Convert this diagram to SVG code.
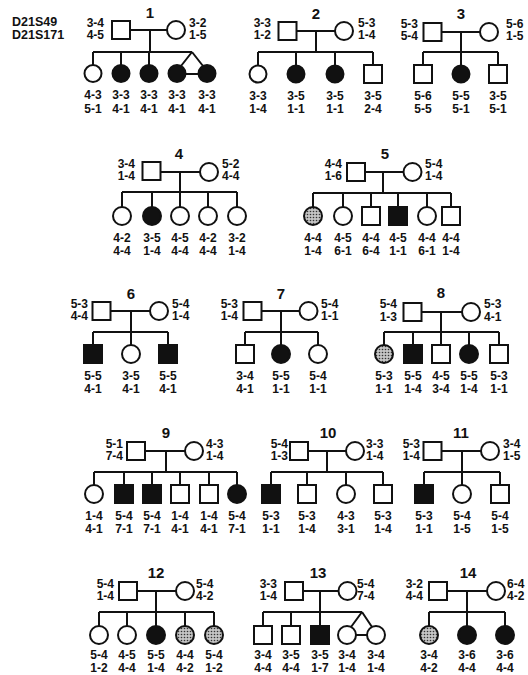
<svg xmlns="http://www.w3.org/2000/svg" width="528" height="675" viewBox="0 0 528 675">
<defs>
<pattern id="dots" width="3" height="3" patternUnits="userSpaceOnUse"><rect width="3" height="3" fill="#c4c4c4"/><circle cx="1.5" cy="1.5" r="0.8" fill="#333"/></pattern>
</defs>
<style>
text{font-family:"Liberation Sans",Arial,sans-serif;font-weight:bold;font-size:12px;fill:#111}
.c{text-anchor:middle}
.e{text-anchor:end}
.ti{font-size:15px;text-anchor:middle}
.hd{font-size:12.5px}
.o{fill:#fff;stroke:#111;stroke-width:2}
.a{fill:#111;stroke:#111;stroke-width:2}
.s{fill:url(#dots);stroke:#111;stroke-width:2}
.ln{stroke:#111;stroke-width:2;fill:none}
</style>
<rect width="528" height="675" fill="#fff"/>
<g id="header"><text class="hd" x="12" y="25.5">D21S49</text><text class="hd" x="12" y="38.5">D21S171</text></g>

<g id="connectors" class="ln">
<path d="M130 30H167M150 30V52M93 52H192M93 52V65M121 52V65M149 52V65M192 52L181 66M192 52L203 66M185 74H198"/>
<path d="M297 31H335M316 31V52M258 52H373M258 52V65M296 52V65M335 52V65M373 52V65"/>
<path d="M442 32H480M461 32V52M423 52H498M423 52V65M461 52V65M498 52V65"/>
<path d="M161 172H200M180 172V192M122 192H237M122 192V207M152 192V207M180 192V207M208 192V207M237 192V207"/>
<path d="M365 172H403M383 172V193M313 193H451M313 193V207M343 193V207M371 193V207M398 193V207M427 193V207M451 193V207"/>
<path d="M111 311H150M131 311V332M93 332H168M93 332V345M131 332V345M168 332V345"/>
<path d="M262 311H299M281 311V332M245 332H318M245 332V345M281 332V345M318 332V345"/>
<path d="M422 312H462M441 312V332M384 332H499M384 332V345M413 332V345M441 332V345M469 332V345M499 332V345"/>
<path d="M145 451H185M166 451V472M94 472H237M94 472V485M124 472V485M152 472V485M180 472V485M209 472V485M237 472V485"/>
<path d="M308 451H346M327 451V472M271 472H383M271 472V485M307 472V485M346 472V485M383 472V485"/>
<path d="M442 451H481M462 451V472M424 472H500M424 472V485M462 472V485M500 472V485"/>
<path d="M137 591H176M156 591V612M99 612H214M99 612V626M127 612V626M156 612V626M185 612V626M214 612V626"/>
<path d="M303 591H338M320 591V612M263 612H362M263 612V626M291 612V626M320 612V626M362 612L351 627M362 612L372 627M356 635H367"/>
<path d="M447 591H487M467 591V612M429 612H505M429 612V626M467 612V626M505 612V626"/>
</g>

<g id="fam1">
<text class="ti" x="150" y="18">1</text>
<g id="f1-father"><rect class="o" x="112" y="21" width="18" height="18"/><text class="e" x="104" y="26.5">3-4<tspan x="104" dy="12.5">4-5</tspan></text></g>
<g id="f1-mother"><circle class="o" cx="176" cy="30" r="9"/><text x="189" y="26.5">3-2<tspan x="189" dy="12.5">1-5</tspan></text></g>
<g id="f1-c1"><circle class="o" cx="93" cy="73.5" r="8.5"/><text class="c" x="93" y="99">4-3<tspan x="93" dy="13.5">5-1</tspan></text></g>
<g id="f1-c2"><circle class="a" cx="121" cy="73.5" r="8.5"/><text class="c" x="121" y="99">3-3<tspan x="121" dy="13.5">4-1</tspan></text></g>
<g id="f1-c3"><circle class="a" cx="149" cy="73.5" r="8.5"/><text class="c" x="149" y="99">3-3<tspan x="149" dy="13.5">4-1</tspan></text></g>
<g id="f1-c4"><circle class="a" cx="177" cy="73.5" r="8.5"/><text class="c" x="177" y="99">3-3<tspan x="177" dy="13.5">4-1</tspan></text></g>
<g id="f1-c5"><circle class="a" cx="207" cy="73.5" r="8.5"/><text class="c" x="207" y="99">3-3<tspan x="207" dy="13.5">4-1</tspan></text></g>
</g>

<g id="fam2">
<text class="ti" x="316" y="19">2</text>
<g id="f2-father"><rect class="o" x="278.5" y="22" width="18" height="18"/><text class="e" x="271" y="26.5">3-3<tspan x="271" dy="12.5">1-2</tspan></text></g>
<g id="f2-mother"><circle class="o" cx="344" cy="31" r="9"/><text x="358" y="26.5">5-3<tspan x="358" dy="12.5">1-4</tspan></text></g>
<g id="f2-c1"><circle class="o" cx="258" cy="74" r="8.5"/><text class="c" x="258" y="99.5">3-3<tspan x="258" dy="13.5">1-4</tspan></text></g>
<g id="f2-c2"><circle class="a" cx="296" cy="74" r="8.5"/><text class="c" x="296" y="99.5">3-5<tspan x="296" dy="13.5">1-1</tspan></text></g>
<g id="f2-c3"><circle class="a" cx="335" cy="74" r="8.5"/><text class="c" x="335" y="99.5">3-5<tspan x="335" dy="13.5">1-1</tspan></text></g>
<g id="f2-c4"><rect class="o" x="364" y="65" width="18" height="18"/><text class="c" x="373" y="99.5">3-5<tspan x="373" dy="13.5">2-4</tspan></text></g>
</g>

<g id="fam3">
<text class="ti" x="461" y="19">3</text>
<g id="f3-father"><rect class="o" x="423.5" y="23" width="18" height="18"/><text class="e" x="418" y="27.5">5-3<tspan x="418" dy="12.5">5-4</tspan></text></g>
<g id="f3-mother"><circle class="o" cx="489" cy="32" r="9"/><text x="506" y="27.5">5-6<tspan x="506" dy="12.5">1-5</tspan></text></g>
<g id="f3-c1"><rect class="o" x="414" y="65" width="18" height="18"/><text class="c" x="423" y="99.5">5-6<tspan x="423" dy="13.5">5-5</tspan></text></g>
<g id="f3-c2"><circle class="a" cx="461" cy="74" r="8.5"/><text class="c" x="461" y="99.5">5-5<tspan x="461" dy="13.5">5-1</tspan></text></g>
<g id="f3-c3"><rect class="o" x="489" y="65" width="18" height="18"/><text class="c" x="498" y="99.5">3-5<tspan x="498" dy="13.5">5-1</tspan></text></g>
</g>

<g id="fam4">
<text class="ti" x="179" y="159">4</text>
<g id="f4-father"><rect class="o" x="142.5" y="162" width="18" height="18"/><text class="e" x="135" y="167.5">3-4<tspan x="135" dy="12.5">1-4</tspan></text></g>
<g id="f4-mother"><circle class="o" cx="209" cy="172" r="9"/><text x="222" y="167.5">5-2<tspan x="222" dy="12.5">4-4</tspan></text></g>
<g id="f4-c1"><circle class="o" cx="122" cy="216" r="9"/><text class="c" x="122" y="241.5">4-2<tspan x="122" dy="13.5">4-4</tspan></text></g>
<g id="f4-c2"><circle class="a" cx="152" cy="216" r="9"/><text class="c" x="152" y="241.5">3-5<tspan x="152" dy="13.5">1-4</tspan></text></g>
<g id="f4-c3"><circle class="o" cx="180" cy="216" r="9"/><text class="c" x="180" y="241.5">4-5<tspan x="180" dy="13.5">4-4</tspan></text></g>
<g id="f4-c4"><circle class="o" cx="208" cy="216" r="9"/><text class="c" x="208" y="241.5">4-2<tspan x="208" dy="13.5">4-4</tspan></text></g>
<g id="f4-c5"><circle class="o" cx="237" cy="216" r="9"/><text class="c" x="237" y="241.5">3-2<tspan x="237" dy="13.5">1-4</tspan></text></g>
</g>

<g id="fam5">
<text class="ti" x="385" y="159">5</text>
<g id="f5-father"><rect class="o" x="347" y="163" width="18" height="18"/><text class="e" x="342" y="167.5">4-4<tspan x="342" dy="12.5">1-6</tspan></text></g>
<g id="f5-mother"><circle class="o" cx="412.5" cy="172" r="9"/><text x="425" y="167.5">5-4<tspan x="425" dy="12.5">1-4</tspan></text></g>
<g id="f5-c1"><circle class="s" cx="313" cy="216" r="9"/><text class="c" x="313" y="241.5">4-4<tspan x="313" dy="13.5">1-4</tspan></text></g>
<g id="f5-c2"><circle class="o" cx="343" cy="216" r="9"/><text class="c" x="343" y="241.5">4-5<tspan x="343" dy="13.5">6-1</tspan></text></g>
<g id="f5-c3"><rect class="o" x="362" y="207" width="18" height="18"/><text class="c" x="371" y="241.5">4-4<tspan x="371" dy="13.5">6-4</tspan></text></g>
<g id="f5-c4"><rect class="a" x="389" y="207" width="18" height="18"/><text class="c" x="398" y="241.5">4-5<tspan x="398" dy="13.5">1-1</tspan></text></g>
<g id="f5-c5"><circle class="o" cx="427" cy="216" r="9"/><text class="c" x="427" y="241.5">4-4<tspan x="427" dy="13.5">6-1</tspan></text></g>
<g id="f5-c6"><rect class="o" x="442" y="207" width="18" height="18"/><text class="c" x="451" y="241.5">4-4<tspan x="451" dy="13.5">1-4</tspan></text></g>
</g>

<g id="fam6">
<text class="ti" x="131" y="299">6</text>
<g id="f6-father"><rect class="o" x="92.5" y="302" width="18" height="18"/><text class="e" x="88" y="307.5">5-3<tspan x="88" dy="12.5">4-4</tspan></text></g>
<g id="f6-mother"><circle class="o" cx="159" cy="311" r="9"/><text x="172" y="307.5">5-4<tspan x="172" dy="12.5">1-4</tspan></text></g>
<g id="f6-c1"><rect class="a" x="84" y="345" width="18" height="18"/><text class="c" x="93" y="379.5">5-5<tspan x="93" dy="13.5">4-1</tspan></text></g>
<g id="f6-c2"><circle class="o" cx="131" cy="354" r="9"/><text class="c" x="131" y="379.5">3-5<tspan x="131" dy="13.5">4-1</tspan></text></g>
<g id="f6-c3"><rect class="a" x="159" y="345" width="18" height="18"/><text class="c" x="168" y="379.5">5-5<tspan x="168" dy="13.5">4-1</tspan></text></g>
</g>

<g id="fam7">
<text class="ti" x="281" y="299">7</text>
<g id="f7-father"><rect class="o" x="243.5" y="302" width="18" height="18"/><text class="e" x="238" y="307.5">5-3<tspan x="238" dy="12.5">1-4</tspan></text></g>
<g id="f7-mother"><circle class="o" cx="308.5" cy="311" r="9"/><text x="321" y="307.5">5-4<tspan x="321" dy="12.5">1-1</tspan></text></g>
<g id="f7-c1"><rect class="o" x="236" y="345" width="18" height="18"/><text class="c" x="245" y="379.5">3-4<tspan x="245" dy="13.5">4-1</tspan></text></g>
<g id="f7-c2"><circle class="a" cx="281" cy="354" r="9"/><text class="c" x="281" y="379.5">5-5<tspan x="281" dy="13.5">1-1</tspan></text></g>
<g id="f7-c3"><circle class="o" cx="318" cy="354" r="9"/><text class="c" x="318" y="379.5">5-4<tspan x="318" dy="13.5">1-1</tspan></text></g>
</g>

<g id="fam8">
<text class="ti" x="441" y="298">8</text>
<g id="f8-father"><rect class="o" x="403.5" y="303" width="18" height="18"/><text class="e" x="397" y="308">5-4<tspan x="397" dy="12.5">1-3</tspan></text></g>
<g id="f8-mother"><circle class="o" cx="471" cy="312" r="9"/><text x="484" y="308">5-3<tspan x="484" dy="12.5">4-1</tspan></text></g>
<g id="f8-c1"><circle class="s" cx="384" cy="354" r="9"/><text class="c" x="384" y="379.5">5-3<tspan x="384" dy="13.5">1-1</tspan></text></g>
<g id="f8-c2"><rect class="a" x="404" y="345" width="18" height="18"/><text class="c" x="413" y="379.5">5-5<tspan x="413" dy="13.5">1-4</tspan></text></g>
<g id="f8-c3"><rect class="o" x="432" y="345" width="18" height="18"/><text class="c" x="441" y="379.5">4-5<tspan x="441" dy="13.5">3-4</tspan></text></g>
<g id="f8-c4"><circle class="a" cx="469" cy="354" r="9"/><text class="c" x="469" y="379.5">5-5<tspan x="469" dy="13.5">1-4</tspan></text></g>
<g id="f8-c5"><rect class="o" x="490" y="345" width="18" height="18"/><text class="c" x="499" y="379.5">5-3<tspan x="499" dy="13.5">1-1</tspan></text></g>
</g>

<g id="fam9">
<text class="ti" x="166" y="438">9</text>
<g id="f9-father"><rect class="o" x="127" y="442" width="18" height="18"/><text class="e" x="123" y="447.5">5-1<tspan x="123" dy="12.5">7-4</tspan></text></g>
<g id="f9-mother"><circle class="o" cx="194" cy="451" r="9"/><text x="206" y="447.5">4-3<tspan x="206" dy="12.5">1-4</tspan></text></g>
<g id="f9-c1"><circle class="o" cx="94" cy="494" r="9"/><text class="c" x="94" y="519.5">1-4<tspan x="94" dy="13.5">4-1</tspan></text></g>
<g id="f9-c2"><rect class="a" x="115" y="485" width="18" height="18"/><text class="c" x="124" y="519.5">5-4<tspan x="124" dy="13.5">7-1</tspan></text></g>
<g id="f9-c3"><rect class="a" x="143" y="485" width="18" height="18"/><text class="c" x="152" y="519.5">5-4<tspan x="152" dy="13.5">7-1</tspan></text></g>
<g id="f9-c4"><rect class="o" x="171" y="485" width="18" height="18"/><text class="c" x="180" y="519.5">1-4<tspan x="180" dy="13.5">4-1</tspan></text></g>
<g id="f9-c5"><rect class="o" x="200" y="485" width="18" height="18"/><text class="c" x="209" y="519.5">1-4<tspan x="209" dy="13.5">4-1</tspan></text></g>
<g id="f9-c6"><circle class="a" cx="237" cy="494" r="9"/><text class="c" x="237" y="519.5">5-4<tspan x="237" dy="13.5">7-1</tspan></text></g>
</g>

<g id="fam10">
<text class="ti" x="328" y="438">10</text>
<g id="f10-father"><rect class="o" x="290" y="442" width="18" height="18"/><text class="e" x="288" y="447.5">5-4<tspan x="288" dy="12.5">1-3</tspan></text></g>
<g id="f10-mother"><circle class="o" cx="355" cy="451" r="9"/><text x="366" y="447.5">3-3<tspan x="366" dy="12.5">1-4</tspan></text></g>
<g id="f10-c1"><rect class="a" x="262" y="485" width="18" height="18"/><text class="c" x="271" y="519.5">5-3<tspan x="271" dy="13.5">1-1</tspan></text></g>
<g id="f10-c2"><rect class="o" x="298" y="485" width="18" height="18"/><text class="c" x="307" y="519.5">5-3<tspan x="307" dy="13.5">1-4</tspan></text></g>
<g id="f10-c3"><circle class="o" cx="346" cy="494" r="9"/><text class="c" x="346" y="519.5">4-3<tspan x="346" dy="13.5">3-1</tspan></text></g>
<g id="f10-c4"><rect class="o" x="374" y="485" width="18" height="18"/><text class="c" x="383" y="519.5">5-3<tspan x="383" dy="13.5">1-4</tspan></text></g>
</g>

<g id="fam11">
<text class="ti" x="461" y="438">11</text>
<g id="f11-father"><rect class="o" x="423.5" y="442" width="18" height="18"/><text class="e" x="420" y="447.5">5-3<tspan x="420" dy="12.5">1-4</tspan></text></g>
<g id="f11-mother"><circle class="o" cx="490" cy="451" r="9"/><text x="503" y="447.5">3-4<tspan x="503" dy="12.5">1-5</tspan></text></g>
<g id="f11-c1"><rect class="a" x="415" y="485" width="18" height="18"/><text class="c" x="424" y="519.5">5-3<tspan x="424" dy="13.5">1-1</tspan></text></g>
<g id="f11-c2"><circle class="o" cx="462" cy="494" r="9"/><text class="c" x="462" y="519.5">5-4<tspan x="462" dy="13.5">1-5</tspan></text></g>
<g id="f11-c3"><rect class="o" x="491" y="485" width="18" height="18"/><text class="c" x="500" y="519.5">5-4<tspan x="500" dy="13.5">1-5</tspan></text></g>
</g>

<g id="fam12">
<text class="ti" x="156" y="578">12</text>
<g id="f12-father"><rect class="o" x="119" y="582" width="18" height="18"/><text class="e" x="114" y="587.5">5-4<tspan x="114" dy="12.5">1-4</tspan></text></g>
<g id="f12-mother"><circle class="o" cx="185" cy="591" r="9"/><text x="196" y="587.5">5-4<tspan x="196" dy="12.5">4-2</tspan></text></g>
<g id="f12-c1"><circle class="o" cx="99" cy="635" r="9"/><text class="c" x="99" y="659">5-4<tspan x="99" dy="13">1-2</tspan></text></g>
<g id="f12-c2"><circle class="o" cx="127" cy="635" r="9"/><text class="c" x="127" y="659">4-5<tspan x="127" dy="13">4-4</tspan></text></g>
<g id="f12-c3"><circle class="a" cx="156" cy="635" r="9"/><text class="c" x="156" y="659">5-5<tspan x="156" dy="13">1-4</tspan></text></g>
<g id="f12-c4"><circle class="s" cx="185" cy="635" r="9"/><text class="c" x="185" y="659">4-4<tspan x="185" dy="13">4-2</tspan></text></g>
<g id="f12-c5"><circle class="s" cx="214" cy="635" r="9"/><text class="c" x="214" y="659">5-4<tspan x="214" dy="13">1-2</tspan></text></g>
</g>

<g id="fam13">
<text class="ti" x="318" y="578">13</text>
<g id="f13-father"><rect class="o" x="285" y="582" width="18" height="18"/><text class="e" x="277" y="587.5">3-3<tspan x="277" dy="12.5">1-4</tspan></text></g>
<g id="f13-mother"><circle class="o" cx="347.5" cy="591" r="9"/><text x="357" y="587.5">5-4<tspan x="357" dy="12.5">7-4</tspan></text></g>
<g id="f13-c1"><rect class="o" x="254" y="626" width="18" height="18"/><text class="c" x="263" y="659">3-4<tspan x="263" dy="13">4-4</tspan></text></g>
<g id="f13-c2"><rect class="o" x="282" y="626" width="18" height="18"/><text class="c" x="291" y="659">3-5<tspan x="291" dy="13">4-4</tspan></text></g>
<g id="f13-c3"><rect class="a" x="311" y="626" width="18" height="18"/><text class="c" x="320" y="659">3-5<tspan x="320" dy="13">1-7</tspan></text></g>
<g id="f13-c4"><circle class="o" cx="347" cy="635" r="9"/><text class="c" x="347" y="659">3-4<tspan x="347" dy="13">1-4</tspan></text></g>
<g id="f13-c5"><circle class="o" cx="376" cy="635" r="9"/><text class="c" x="376" y="659">3-4<tspan x="376" dy="13">1-4</tspan></text></g>
</g>

<g id="fam14">
<text class="ti" x="468" y="578">14</text>
<g id="f14-father"><rect class="o" x="429" y="582" width="18" height="18"/><text class="e" x="423" y="587.5">3-2<tspan x="423" dy="12.5">4-4</tspan></text></g>
<g id="f14-mother"><circle class="o" cx="496" cy="591" r="9"/><text x="507" y="587.5">6-4<tspan x="507" dy="12.5">4-2</tspan></text></g>
<g id="f14-c1"><circle class="s" cx="429" cy="635" r="9"/><text class="c" x="429" y="659">3-4<tspan x="429" dy="13">4-2</tspan></text></g>
<g id="f14-c2"><circle class="a" cx="467" cy="635" r="9"/><text class="c" x="467" y="659">3-6<tspan x="467" dy="13">4-4</tspan></text></g>
<g id="f14-c3"><circle class="a" cx="505" cy="635" r="9"/><text class="c" x="505" y="659">3-6<tspan x="505" dy="13">4-4</tspan></text></g>
</g>
</svg>
